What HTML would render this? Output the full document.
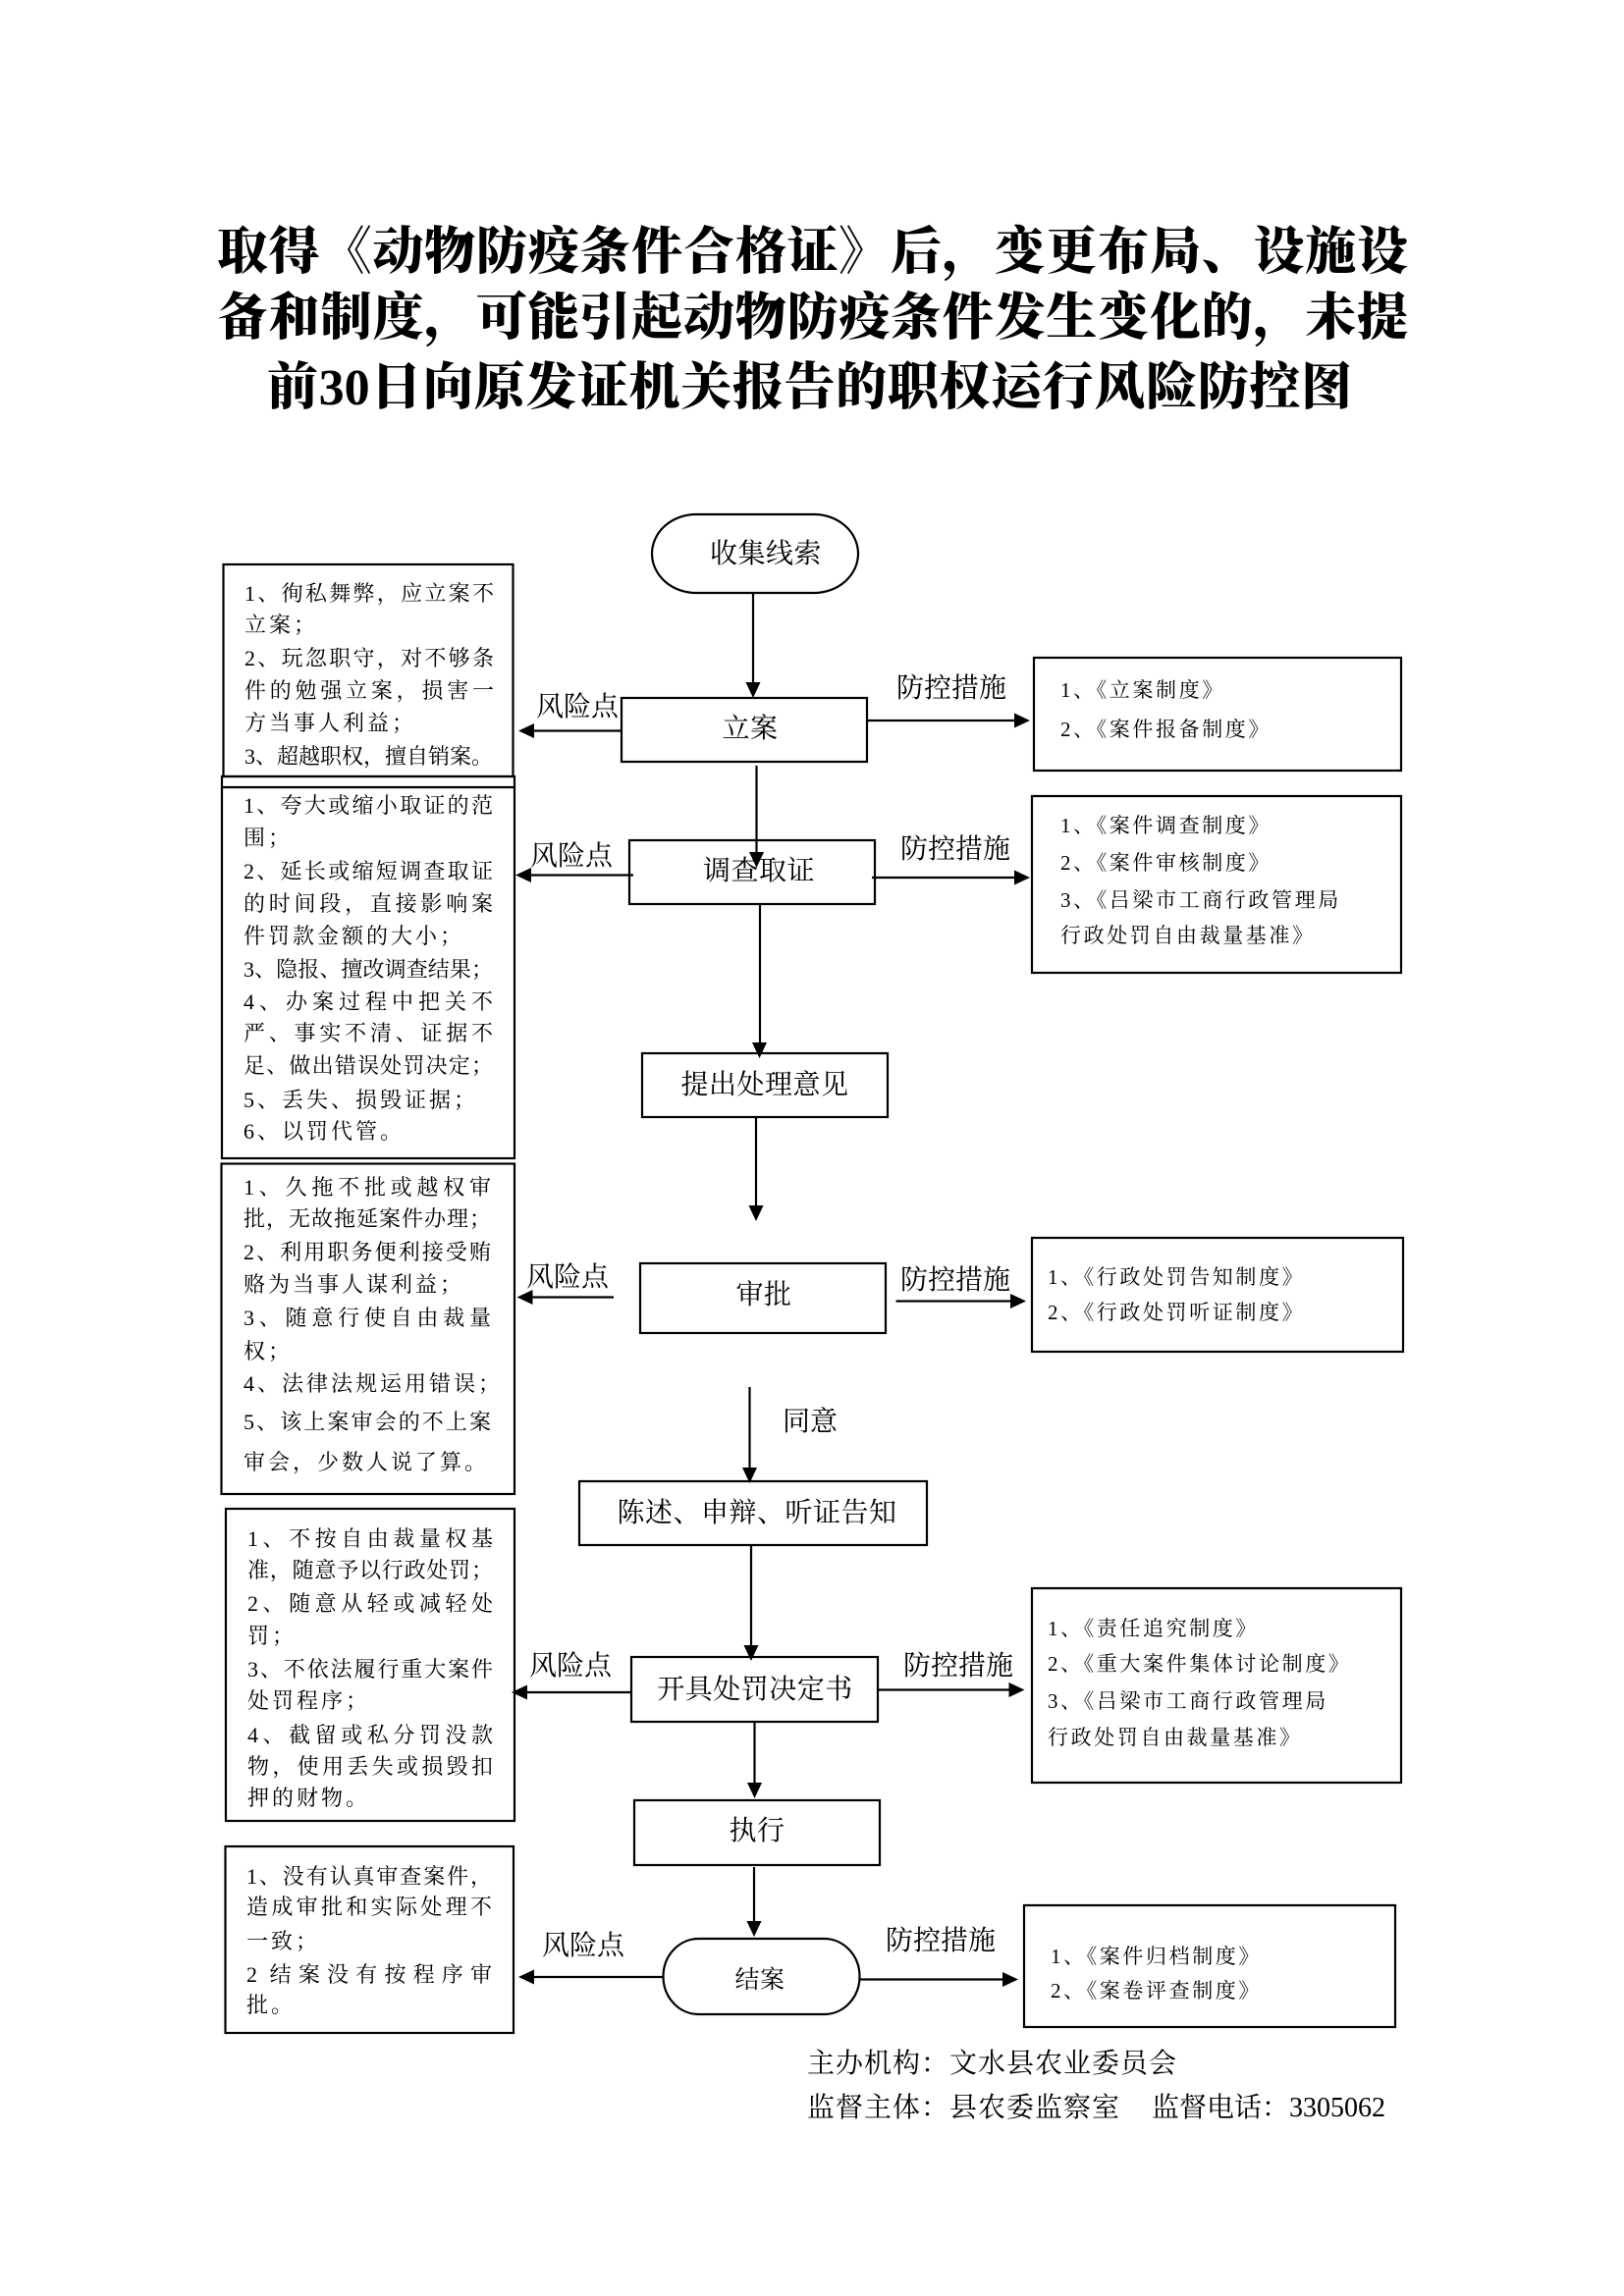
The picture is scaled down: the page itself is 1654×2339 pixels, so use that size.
<!DOCTYPE html>
<html lang="zh">
<head>
<meta charset="utf-8">
<style>
  html,body{margin:0;padding:0;background:#fff;}
  #page{position:relative;width:1654px;height:2339px;background:#fff;overflow:hidden;}
  svg{position:absolute;left:0;top:0;}
  .t{position:absolute;white-space:nowrap;color:#000;
     font-family:"Liberation Serif","Noto Serif CJK SC",serif;}
  .title{font-size:52px;line-height:52px;font-weight:900;text-align:justify;text-align-last:justify;}
  .c{font-size:28px;line-height:28px;letter-spacing:0.5px;transform:translateX(-50%);}
  .lb{font-size:28px;line-height:28px;letter-spacing:0px;}
  .r{font-size:22px;line-height:22px;width:254px;letter-spacing:3px;}
  .r.j{text-align:justify;text-align-last:justify;letter-spacing:0;}
  .m{font-size:21px;line-height:21px;letter-spacing:2.6px;}
  .f{font-size:28px;line-height:28px;letter-spacing:1px;}
</style>
</head>
<body>
<div id="page">
<svg width="1654" height="2339" viewBox="0 0 1654 2339" xmlns="http://www.w3.org/2000/svg">
  <g fill="none" stroke="#000" stroke-width="2.2">
    <rect x="664" y="524" width="210" height="80" rx="45" ry="40"/>
    <rect x="675.5" y="1975" width="200" height="77" rx="36" ry="38.5"/>
    <rect x="633" y="711" width="250" height="65"/>
    <rect x="641" y="856" width="250" height="65"/>
    <rect x="654" y="1073" width="250" height="65"/>
    <rect x="652" y="1287" width="250" height="71"/>
    <rect x="590" y="1509" width="354" height="65"/>
    <rect x="643" y="1688" width="251" height="66"/>
    <rect x="646" y="1834" width="250" height="66"/>
    <rect x="227.5" y="575" width="295" height="216"/>
    <rect x="226" y="791" width="298" height="389"/>
    <line x1="226" y1="802" x2="524" y2="802"/>
    <rect x="225.5" y="1185.5" width="298.5" height="336.5"/>
    <rect x="230" y="1537" width="294" height="318"/>
    <rect x="229.5" y="1881" width="293.5" height="190"/>
    <rect x="1053" y="670" width="374" height="115"/>
    <rect x="1051" y="811" width="376" height="180"/>
    <rect x="1051" y="1261" width="378" height="116"/>
    <rect x="1051" y="1618" width="376" height="198"/>
    <rect x="1043" y="1941" width="378" height="124"/>

    <line x1="767" y1="604" x2="767" y2="697"/>
    <line x1="770.5" y1="780" x2="770.5" y2="870"/>
    <line x1="774" y1="922" x2="774" y2="1064"/>
    <line x1="770" y1="1138" x2="770" y2="1230"/>
    <line x1="763.5" y1="1413" x2="763.5" y2="1497"/>
    <line x1="765" y1="1574" x2="765" y2="1678"/>
    <line x1="768.5" y1="1754" x2="768.5" y2="1818"/>
    <line x1="768" y1="1902" x2="768" y2="1959"/>

    <line x1="633" y1="744.5" x2="542" y2="744.5"/>
    <line x1="645" y1="891.5" x2="539" y2="891.5"/>
    <line x1="625" y1="1321.5" x2="540" y2="1321.5"/>
    <line x1="643" y1="1724" x2="535" y2="1724"/>
    <line x1="675.5" y1="2014" x2="542" y2="2014"/>

    <line x1="883" y1="734" x2="1035" y2="734"/>
    <line x1="888" y1="894" x2="1035" y2="894"/>
    <line x1="912.5" y1="1325.5" x2="1031" y2="1325.5"/>
    <line x1="894" y1="1721.5" x2="1029" y2="1721.5"/>
    <line x1="876" y1="2016.5" x2="1023" y2="2016.5"/>
  </g>
  <g fill="#000" stroke="none">
    <polygon points="759.5,695 774.5,695 767,711"/>
    <polygon points="763,868 778,868 770.5,884"/>
    <polygon points="766,1062 781,1062 773.5,1078"/>
    <polygon points="762.5,1228 777.5,1228 770,1244"/>
    <polygon points="756,1495 771,1495 763.5,1511"/>
    <polygon points="757.5,1676 772.5,1676 765,1692"/>
    <polygon points="761,1816 776,1816 768.5,1832"/>
    <polygon points="760.5,1957 775.5,1957 768,1973"/>
    <polygon points="544,737 544,752 528,744.5"/>
    <polygon points="541,884 541,899 525,891.5"/>
    <polygon points="542.5,1314 542.5,1329 526.5,1321.5"/>
    <polygon points="537,1716.5 537,1731.5 521,1724"/>
    <polygon points="544,2006.5 544,2021.5 528,2014"/>
    <polygon points="1033,726.5 1033,741.5 1049,734"/>
    <polygon points="1033,886.5 1033,901.5 1049,894"/>
    <polygon points="1029,1318 1029,1333 1045,1325.5"/>
    <polygon points="1027.5,1714 1027.5,1729 1043.5,1721.5"/>
    <polygon points="1021,2009 1021,2024 1037,2016.5"/>
  </g>
</svg>

<div class="t title" style="left:221px;top:232px;width:1213px;">取得《动物防疫条件合格证》后，变更布局、设施设</div>
<div class="t title" style="left:221px;top:299px;width:1213px;">备和制度，可能引起动物防疫条件发生变化的，未提</div>
<div class="t title" style="left:272px;top:370px;width:1105px;">前30日向原发证机关报告的职权运行风险防控图</div>

<div class="t c" style="left:780px;top:551px;">收集线索</div>
<div class="t c" style="left:764px;top:729px;">立案</div>
<div class="t c" style="left:773px;top:874px;">调查取证</div>
<div class="t c" style="left:779px;top:1092px;">提出处理意见</div>
<div class="t c" style="left:778px;top:1306px;">审批</div>
<div class="t c" style="left:771px;top:1528px;">陈述、申辩、听证告知</div>
<div class="t c" style="left:769px;top:1708px;">开具处罚决定书</div>
<div class="t c" style="left:771px;top:1852px;">执行</div>
<div class="t c" style="left:774px;top:2005px;font-size:25px;line-height:25px;">结案</div>

<div class="t lb" style="left:546px;top:707px;">风险点</div>
<div class="t lb" style="left:540px;top:859px;">风险点</div>
<div class="t lb" style="left:536px;top:1288px;">风险点</div>
<div class="t lb" style="left:539px;top:1684px;">风险点</div>
<div class="t lb" style="left:552px;top:1969px;">风险点</div>

<div class="t lb" style="left:913px;top:688px;">防控措施</div>
<div class="t lb" style="left:917px;top:852px;">防控措施</div>
<div class="t lb" style="left:917px;top:1291px;">防控措施</div>
<div class="t lb" style="left:920px;top:1684px;">防控措施</div>
<div class="t lb" style="left:902px;top:1964px;">防控措施</div>

<div class="t lb" style="left:797px;top:1435px;">同意</div>

<div class="t r j" style="left:249px;top:594px;">1、徇私舞弊，应立案不</div>
<div class="t r" style="left:249px;top:626px;">立案；</div>
<div class="t r j" style="left:249px;top:660px;">2、玩忽职守，对不够条</div>
<div class="t r j" style="left:249px;top:693px;">件的勉强立案，损害一</div>
<div class="t r" style="left:249px;top:726px;">方当事人利益；</div>
<div class="t r j" style="left:249px;top:760px;width:250px;">3、超越职权，擅自销案。</div>

<div class="t r j" style="left:248px;top:810px;">1、夸大或缩小取证的范</div>
<div class="t r" style="left:248px;top:843px;">围；</div>
<div class="t r j" style="left:248px;top:877px;">2、延长或缩短调查取证</div>
<div class="t r j" style="left:248px;top:910px;">的时间段，直接影响案</div>
<div class="t r" style="left:248px;top:943px;">件罚款金额的大小；</div>
<div class="t r j" style="left:248px;top:977px;">3、隐报、擅改调查结果；</div>
<div class="t r j" style="left:248px;top:1010px;">4、办案过程中把关不</div>
<div class="t r j" style="left:248px;top:1042px;">严、事实不清、证据不</div>
<div class="t r j" style="left:248px;top:1075px;">足、做出错误处罚决定；</div>
<div class="t r" style="left:248px;top:1110px;">5、丢失、损毁证据；</div>
<div class="t r" style="left:248px;top:1142px;">6、以罚代管。</div>

<div class="t r j" style="left:248px;top:1199px;width:252px;">1、久拖不批或越权审</div>
<div class="t r j" style="left:248px;top:1231px;width:252px;">批，无故拖延案件办理；</div>
<div class="t r j" style="left:248px;top:1265px;width:252px;">2、利用职务便利接受贿</div>
<div class="t r" style="left:248px;top:1298px;">赂为当事人谋利益；</div>
<div class="t r j" style="left:248px;top:1332px;width:252px;">3、随意行使自由裁量</div>
<div class="t r" style="left:248px;top:1366px;">权；</div>
<div class="t r" style="left:248px;top:1399px;">4、法律法规运用错误；</div>
<div class="t r j" style="left:248px;top:1438px;width:252px;">5、该上案审会的不上案</div>
<div class="t r" style="left:248px;top:1479px;">审会，少数人说了算。</div>

<div class="t r j" style="left:252px;top:1557px;width:250px;">1、不按自由裁量权基</div>
<div class="t r j" style="left:252px;top:1589px;width:250px;">准，随意予以行政处罚；</div>
<div class="t r j" style="left:252px;top:1623px;width:250px;">2、随意从轻或减轻处</div>
<div class="t r" style="left:252px;top:1656px;">罚；</div>
<div class="t r j" style="left:252px;top:1690px;width:250px;">3、不依法履行重大案件</div>
<div class="t r" style="left:252px;top:1722px;">处罚程序；</div>
<div class="t r j" style="left:252px;top:1757px;width:250px;">4、截留或私分罚没款</div>
<div class="t r j" style="left:252px;top:1789px;width:250px;">物，使用丢失或损毁扣</div>
<div class="t r" style="left:252px;top:1821px;">押的财物。</div>

<div class="t r j" style="left:251px;top:1901px;width:250px;">1、没有认真审查案件，</div>
<div class="t r j" style="left:251px;top:1932px;width:250px;">造成审批和实际处理不</div>
<div class="t r" style="left:251px;top:1967px;">一致；</div>
<div class="t r j" style="left:251px;top:2001px;width:250px;">2 结案没有按程序审</div>
<div class="t r" style="left:251px;top:2032px;">批。</div>

<div class="t m" style="left:1080px;top:693px;">1、《立案制度》</div>
<div class="t m" style="left:1080px;top:733px;">2、《案件报备制度》</div>

<div class="t m" style="left:1080px;top:831px;">1、《案件调查制度》</div>
<div class="t m" style="left:1080px;top:869px;">2、《案件审核制度》</div>
<div class="t m" style="left:1080px;top:907px;">3、《吕梁市工商行政管理局</div>
<div class="t m" style="left:1080px;top:943px;">行政处罚自由裁量基准》</div>

<div class="t m" style="left:1067px;top:1291px;">1、《行政处罚告知制度》</div>
<div class="t m" style="left:1067px;top:1327px;">2、《行政处罚听证制度》</div>

<div class="t m" style="left:1067px;top:1649px;">1、《责任追究制度》</div>
<div class="t m" style="left:1067px;top:1685px;">2、《重大案件集体讨论制度》</div>
<div class="t m" style="left:1067px;top:1723px;">3、《吕梁市工商行政管理局</div>
<div class="t m" style="left:1067px;top:1760px;">行政处罚自由裁量基准》</div>

<div class="t m" style="left:1070px;top:1983px;">1、《案件归档制度》</div>
<div class="t m" style="left:1070px;top:2018px;">2、《案卷评查制度》</div>

<div class="t f" style="left:822px;top:2089px;">主办机构：文水县农业委员会</div>
<div class="t f" style="left:822px;top:2134px;">监督主体：县农委监察室</div>
<div class="t f" style="left:1173px;top:2134px;letter-spacing:0;">监督电话：3305062</div>
</div>
</body>
</html>
